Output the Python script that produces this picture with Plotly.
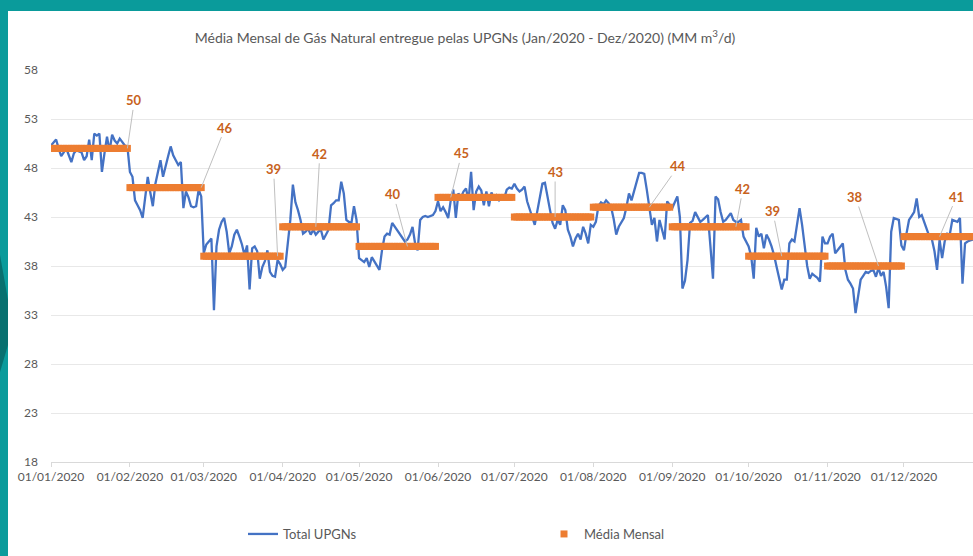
import pandas as pd
import plotly.graph_objects as go

# ---------------- DATA ----------------
chart_title = "Média Mensal de Gás Natural entregue pelas UPGNs (Jan/2020 - Dez/2020) (MM m<sup>3</sup>/d)"
series_daily_name = "Total UPGNs"
series_month_name = "Média Mensal"
start_date = "2020-01-01"

jan = [50.3, 50.6, 50.9, 50.0, 49.2, 49.6, 50.0, 49.3, 48.6, 49.5, 49.8, 49.7, 49.6, 48.8, 49.2, 50.9,
       48.8, 51.5, 51.3, 51.5, 47.6, 49.5, 51.2, 49.7, 51.4, 50.8, 50.5, 51.0, 50.6, 50.3, 50.2]
feb = [47.6, 47.1, 44.7, 44.2, 43.7, 42.9, 45.0, 47.1, 45.5, 44.1, 46.4, 47.5, 48.8, 47.1, 48.3,
       49.2, 50.2, 49.3, 48.8, 48.3, 48.6, 43.9, 45.6, 45.0, 44.1, 44.0, 44.1, 45.8, 45.1]
mar = [39.3, 40.2, 40.5, 40.8, 33.5, 40.0, 41.7, 42.5, 42.9, 41.5, 39.3, 40.0, 41.2, 41.7, 41.0, 40.2,
       39.1, 40.1, 35.6, 39.8, 40.0, 39.5, 36.7, 37.9, 38.5, 39.6, 37.4, 37.0, 36.9, 38.6, 38.2]
apr = [37.6, 37.9, 40.5, 42.7, 46.3, 44.5, 43.7, 42.7, 41.3, 41.5, 41.8, 41.2, 41.7, 41.2, 41.5,
       41.7, 40.7, 41.2, 41.7, 44.2, 44.4, 44.7, 44.7, 46.6, 45.4, 42.7, 42.5, 42.4, 44.1, 42.7]
may = [38.8, 38.6, 38.4, 38.8, 37.9, 38.9, 38.5, 38.0, 37.6, 39.6, 41.0, 41.3, 41.2, 42.4, 42.0, 41.6,
       41.2, 40.8, 40.5, 40.7, 41.2, 42.0, 40.3, 39.6, 42.7, 43.0, 43.1, 43.0, 43.1, 43.2, 43.6]
jun = [44.6, 43.6, 44.0, 43.5, 42.9, 44.7, 45.8, 42.9, 45.4, 45.0, 45.6, 45.9, 44.7, 47.6, 43.7,
       45.6, 46.1, 45.7, 44.2, 45.6, 44.1, 45.5, 44.8, 45.2, 44.7, 45.0, 44.9, 45.8, 46.0, 45.9]
jul = [46.4, 45.9, 45.6, 45.8, 46.1, 44.6, 43.7, 43.0, 42.2, 43.7, 45.2, 46.4, 46.5, 44.9, 43.7, 42.4,
       41.8, 42.7, 42.2, 44.2, 43.7, 41.7, 41.0, 40.0, 40.8, 41.3, 40.7, 42.0, 41.3, 40.3, 42.2]
aug = [42.0, 42.5, 44.1, 44.5, 44.3, 44.7, 44.4, 44.0, 42.8, 41.2, 42.0, 42.4, 42.9, 44.0, 45.4, 44.7,
       45.6, 46.5, 47.5, 47.5, 47.4, 45.8, 43.9, 42.2, 42.9, 40.5, 42.7, 41.7, 40.7, 44.6, 44.2]
sep = [43.9, 44.5, 45.1, 43.0, 35.7, 36.5, 38.6, 42.4, 42.6, 43.5, 43.0, 42.5, 42.7, 43.0, 43.2,
       40.0, 36.7, 45.1, 44.8, 43.5, 42.5, 42.7, 43.0, 43.4, 42.7, 42.5, 42.5, 42.7, 41.0, 40.5]
oct_ = [40.0, 39.0, 36.7, 41.9, 41.0, 41.3, 39.8, 41.2, 40.7, 40.0, 39.1, 37.9, 36.9, 35.6, 36.6, 36.6,
        40.3, 40.7, 40.5, 42.2, 43.9, 42.2, 40.0, 38.0, 36.7, 37.2, 37.0, 36.8, 36.4, 41.0, 40.3]
nov = [40.3, 41.0, 41.3, 39.3, 39.6, 40.0, 40.3, 37.6, 36.6, 36.2, 35.7, 33.2, 35.2, 36.6, 37.0,
       37.4, 37.3, 37.5, 37.6, 36.9, 37.8, 37.0, 37.4, 35.9, 33.7, 41.5, 42.9, 42.8, 42.7, 40.1]
dec = [39.6, 41.3, 42.7, 43.1, 43.5, 44.9, 43.0, 43.2, 42.5, 41.8, 41.0, 40.7, 39.5, 37.6, 40.7, 38.8,
       40.5, 41.3, 41.2, 42.7, 42.6, 42.5, 42.9, 36.2, 40.3, 40.5, 40.6, 40.7, 40.8, 41.0, 40.9]

total_upgns = jan + feb + mar + apr + may + jun + jul + aug + sep + oct_ + nov + dec
month_means = [50, 46, 39, 42, 40, 45, 43, 44, 42, 39, 38, 41]
month_mean_labels = [str(v) for v in month_means]

y_tick_values = [18, 23, 28, 33, 38, 43, 48, 53, 58]
x_tick_dates = ["2020-01-01", "2020-02-01", "2020-03-01", "2020-04-01", "2020-05-01", "2020-06-01",
                "2020-07-01", "2020-08-01", "2020-09-01", "2020-10-01", "2020-11-01", "2020-12-01"]
x_tick_labels = ["01/01/2020", "01/02/2020", "01/03/2020", "01/04/2020", "01/05/2020", "01/06/2020",
                 "01/07/2020", "01/08/2020", "01/09/2020", "01/10/2020", "01/11/2020", "01/12/2020"]

# ---------------- STYLE ----------------
W, H = 973, 556
ML, MR, MT, MB = 51, 0, 70, 94
FONT = "Lato"
TEXT_GREY = "#595959"
BLUE = "#4472C4"
ORANGE = "#ED7D31"
LABEL_ORANGE = "#C8621C"
TEAL = "#0A9B9B"
TEAL_DARK = "#08706F"

# callout placement: day of month where the leader touches the bar, pixel offset to label
callout_day = [31, 29, 30, 14, 20, 6, 17, 23, 26, 14, 21, 15]
callout_dx = [7, 24, -4, 4, -14, 11, 0, 29, 7, -9, -23, 17]
callout_dy = [-48, -60, -87, -73, -52, -44, -45, -41, -38, -45, -69, -40]

dates = pd.date_range(start_date, periods=len(total_upgns), freq="D")
monthly_series = [month_means[d.month - 1] for d in dates]

fig = go.Figure()
fig.add_trace(go.Scatter(
    x=dates, y=total_upgns, mode="lines", name=series_daily_name,
    line=dict(color=BLUE, width=2.3),
))
fig.add_trace(go.Scatter(
    x=dates, y=monthly_series, mode="markers", name=series_month_name,
    marker=dict(color=ORANGE, symbol="square", size=7, line=dict(width=0)),
))

for i, lab in enumerate(month_mean_labels):
    fig.add_annotation(
        x=pd.Timestamp(2020, i + 1, callout_day[i]), y=month_means[i],
        text="<b>" + lab + "</b>", showarrow=True, arrowhead=0, arrowwidth=1,
        arrowcolor="#BFBFBF", standoff=0, startstandoff=0,
        ax=callout_dx[i], ay=callout_dy[i],
        font=dict(family=FONT, size=13, color=LABEL_ORANGE),
    )

pw = W - ML - MR
ph = H - MT - MB


def px_x(p):
    return (p - ML) / pw


def px_y(p):
    return (H - MB - p) / ph


# teal frame (top and left) and a darker accent on the left
fig.add_shape(type="rect", xref="paper", yref="paper", x0=px_x(0), x1=px_x(W), y0=px_y(11), y1=px_y(0),
              fillcolor=TEAL, line=dict(width=0), layer="below")
fig.add_shape(type="rect", xref="paper", yref="paper", x0=px_x(0), x1=px_x(8), y0=px_y(H), y1=px_y(0),
              fillcolor=TEAL, line=dict(width=0), layer="below")
fig.add_shape(type="path", xref="paper", yref="paper",
              path="M {a},{b} L {c},{d} L {c},{e} L {a},{f} Z".format(
                  a=px_x(0), b=px_y(255), c=px_x(8), d=px_y(300), e=px_y(345), f=px_y(372)),
              fillcolor=TEAL_DARK, line=dict(width=0), layer="below")

fig.update_layout(
    width=W, height=H, autosize=False,
    margin=dict(l=ML, r=MR, t=MT, b=MB),
    paper_bgcolor="white", plot_bgcolor="white",
    font=dict(family=FONT, size=12, color=TEXT_GREY),
    title=dict(text=chart_title, x=465 / W, xanchor="center", xref="container",
               y=1 - 38 / H, yanchor="middle", yref="container",
               font=dict(family=FONT, size=14, color=TEXT_GREY)),
    showlegend=True,
    legend=dict(orientation="h", x=px_x(243), xanchor="left", y=px_y(534), yanchor="middle",
                entrywidth=256, entrywidthmode="pixels",
                font=dict(family=FONT, size=13, color=TEXT_GREY), bgcolor="rgba(0,0,0,0)"),
    xaxis=dict(
        type="date", range=["2020-01-01", "2020-12-28 03:00"],
        tickmode="array", tickvals=x_tick_dates, ticktext=x_tick_labels,
        showgrid=False, showline=True, linecolor="#D9D9D9", linewidth=1,
        ticks="outside", ticklen=4, tickcolor="#D9D9D9",
        tickfont=dict(family=FONT, size=12, color=TEXT_GREY), zeroline=False,
    ),
    yaxis=dict(
        range=[18, 58], tickmode="array", tickvals=y_tick_values,
        showgrid=True, gridcolor="#E8E8E8", gridwidth=1, zeroline=False,
        showline=False, ticks="", ticklabelstandoff=12,
        tickfont=dict(family=FONT, size=12, color=TEXT_GREY),
    ),
)

fig.write_html(
    "out.html",
    config={"displayModeBar": False},
    post_script="document.body.style.margin='0';document.body.style.overflow='hidden';",
)
